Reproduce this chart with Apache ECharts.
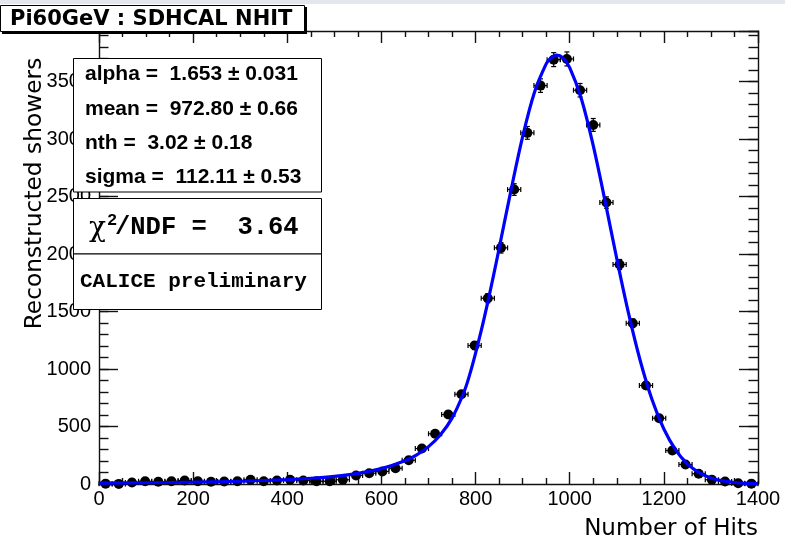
<!DOCTYPE html>
<html>
<head>
<meta charset="utf-8">
<script src="https://cdn.jsdelivr.net/npm/echarts@6/dist/echarts.min.js"></script>
<style>
html,body{margin:0;padding:0;background:#fff;}
#chart{width:785px;height:542px;}
</style>
</head>
<body>
<div id="chart"></div>
<script>
// ---- data ----
const binCenters = [14,42,70,98,126,154,182,210,238,266,294,322,350,378,406,434,462,490,518,546,
  574,602,630,658,686,714,742,770,798,826,854,882,910,938,966,994,1022,1050,1078,1106,
  1134,1162,1190,1218,1246,1274,1302,1330,1358,1386];
const counts = [3,1,13,24,19,24,30,24,19,22,24,37,24,30,37,30,24,24,37,74,
  94,109,137,207,308,437,604,781,1204,1616,2054,2561,3054,3465,3691,3697,3425,3123,2448,1909,
  1398,857,572,291,170,89,37,22,6,3];
const binHalfWidth = 14;
const fitX = [0,100,200,300,400,450,500,550,600,650,675,700,725,750,775,787.5,800,812.5,825,837.5,850,875,900,925,950,960,972.8,985,1000,1025,1050,1075,1100,1125,1150,1175,1200,1225,1250,1275,1300,1325,1350,1375,1400];
const fitY = [8,11,16,24,38.5,50,67,93,134,202,254,325,426,573,796,951,1138,1342,1565,1801,2048,2550,3021,3406,3654,3706,3730,3708,3622,3347,2943,2462,1959,1484,1070,733,478,297,175,99,53,27,13,6,2.6];
const xTicks = {min:0, max:1400, major:200, minorSplit:4};
const yTicks = {min:0, max:3940, major:500, minor:100};
const titleText = 'Pi60GeV : SDHCAL NHIT';
const statsLines = ['alpha =  1.653 \u00b1 0.031','mean =  972.80 \u00b1 0.66','nth =  3.02 \u00b1 0.18','sigma =  112.11 \u00b1 0.53'];
const chi2Text = '/NDF =  3.64';
const prelimText = 'CALICE preliminary';
const xTitle = 'Number of Hits';
const yTitle = 'Reconstructed showers';

const pointData = binCenters.map((x,i)=>[x, counts[i], Math.sqrt(counts[i])]);
const fitData = fitX.map((x,i)=>[x, fitY[i]]);

const chart = echarts.init(document.getElementById('chart'), null, {renderer:'canvas'});
const axisFont = 'Liberation Sans';
const ink = '#111';
const tickW = 1.4;
const plainNum = v => String(v);

function xAx(pos, labels){
  return {type:'value', position:pos, min:xTicks.min, max:xTicks.max, interval:xTicks.major,
    axisLine:{show:true, onZero:false, lineStyle:{color:ink, width:tickW}},
    axisTick:{show:true, inside:true, length:12, lineStyle:{color:ink, width:tickW}},
    minorTick:{show:true, splitNumber:xTicks.minorSplit, length:6, lineStyle:{color:ink, width:tickW}},
    axisLabel:{show:labels, color:'#000', fontSize:20, fontFamily:axisFont, margin:5, formatter:plainNum},
    splitLine:{show:false}};
}
function yAx(pos, interval, len, labels, line){
  return {type:'value', position:pos, min:yTicks.min, max:yTicks.max, interval:interval,
    axisLine:{show:line, onZero:false, lineStyle:{color:ink, width:tickW}},
    axisTick:{show:true, inside:true, length:len, lineStyle:{color:ink, width:tickW}},
    axisLabel:{show:labels, color:'#000', fontSize:20, fontFamily:axisFont, margin:8, showMaxLabel:false, formatter:plainNum},
    splitLine:{show:false}};
}

const boxL = 73.5, boxW = 248;
const option = {
  animation:false,
  backgroundColor:'#fff',
  grid:{left:99, right:27, top:31, bottom:58},
  xAxis:[xAx('bottom', true), xAx('top', false)],
  yAxis:[yAx('left', yTicks.major, 19, true, true), yAx('left', yTicks.minor, 9.5, false, false),
         yAx('right', yTicks.major, 19, false, true), yAx('right', yTicks.minor, 9.5, false, false)],
  series:[
    {type:'custom', xAxisIndex:0, yAxisIndex:0, z:3, data:pointData,
      renderItem:function(params, api){
        const x = api.value(0), y = api.value(1), e = api.value(2);
        const l = api.coord([x-binHalfWidth, y]), r = api.coord([x+binHalfWidth, y]);
        const t = api.coord([x, y+e]), b = api.coord([x, Math.max(0, y-e)]);
        const cap = 2.5;
        const st = {stroke:'#000', lineWidth:1.2};
        const ch = [
          {type:'line', shape:{x1:l[0], y1:l[1], x2:r[0], y2:r[1]}, style:st},
          {type:'line', shape:{x1:l[0], y1:l[1]-cap, x2:l[0], y2:l[1]+cap}, style:st},
          {type:'line', shape:{x1:r[0], y1:r[1]-cap, x2:r[0], y2:r[1]+cap}, style:st}
        ];
        if (t[1] < b[1]-1) {
          ch.push({type:'line', shape:{x1:t[0], y1:t[1], x2:b[0], y2:b[1]}, style:st});
          ch.push({type:'line', shape:{x1:t[0]-cap, y1:t[1], x2:t[0]+cap, y2:t[1]}, style:st});
          ch.push({type:'line', shape:{x1:b[0]-cap, y1:b[1], x2:b[0]+cap, y2:b[1]}, style:st});
        }
        return {type:'group', children:ch};
      }},
    {type:'scatter', xAxisIndex:0, yAxisIndex:0, z:4, symbol:'circle', symbolSize:10,
      itemStyle:{color:'#000', opacity:1}, data:pointData.map(p=>[p[0],p[1]])},
    {type:'line', xAxisIndex:0, yAxisIndex:0, z:5, data:fitData, showSymbol:false, smooth:0.35,
      lineStyle:{color:'#0000ff', width:3.2}}
  ],
  graphic:[
    {type:'rect', z:100, shape:{x:0, y:0, width:785, height:4}, style:{fill:'#e4e8ee'}},
    // title box
    {type:'rect', z:100, shape:{x:2, y:7, width:305, height:27}, style:{fill:'#000'}},
    {type:'rect', z:101, shape:{x:0.5, y:5.5, width:304, height:26}, style:{fill:'#fff', stroke:'#000', lineWidth:1}},
    {type:'text', z:102, x:10, y:19.5, style:{text:titleText, font:'bold 21px "DejaVu Sans"', fill:'#000', align:'left', verticalAlign:'middle'}},
    // stats box
    {type:'rect', z:101, shape:{x:boxL, y:58.5, width:boxW, height:133.5}, style:{fill:'#fff', stroke:'#000', lineWidth:1}},
    {type:'text', z:102, x:85, y:74, style:{text:statsLines[0], font:'bold 21px "Liberation Sans"', fill:'#000', align:'left', verticalAlign:'middle'}},
    {type:'text', z:102, x:85, y:109, style:{text:statsLines[1], font:'bold 21px "Liberation Sans"', fill:'#000', align:'left', verticalAlign:'middle'}},
    {type:'text', z:102, x:85, y:143, style:{text:statsLines[2], font:'bold 21px "Liberation Sans"', fill:'#000', align:'left', verticalAlign:'middle'}},
    {type:'text', z:102, x:85, y:177, style:{text:statsLines[3], font:'bold 21px "Liberation Sans"', fill:'#000', align:'left', verticalAlign:'middle'}},
    // chi2 box
    {type:'rect', z:101, shape:{x:boxL, y:198.5, width:boxW, height:55.5}, style:{fill:'#fff', stroke:'#000', lineWidth:1}},
    {type:'text', z:102, x:89, y:229, style:{text:'\u03c7', font:'28px "DejaVu Serif"', fill:'#000', align:'left', verticalAlign:'middle'}},
    {type:'text', z:102, x:107, y:221, style:{text:'2', font:'bold 17px "Liberation Mono"', fill:'#000', align:'left', verticalAlign:'middle'}},
    {type:'text', z:102, x:115, y:228, style:{text:chi2Text, font:'bold 25.5px "Liberation Mono"', fill:'#000', align:'left', verticalAlign:'middle'}},
    // preliminary box
    {type:'rect', z:101, shape:{x:boxL, y:254, width:boxW, height:55.5}, style:{fill:'#fff', stroke:'#000', lineWidth:1}},
    {type:'text', z:102, x:80, y:282, style:{text:prelimText, font:'bold 21px "Liberation Mono"', fill:'#000', align:'left', verticalAlign:'middle'}},
    // axis titles
    {type:'text', z:102, x:758, y:529, style:{text:xTitle, font:'23px "DejaVu Sans"', fill:'#000', align:'right', verticalAlign:'middle'}},
    {type:'text', z:102, x:35, y:193.5, rotation:Math.PI/2, style:{text:yTitle, font:'23.3px "DejaVu Sans"', fill:'#000', align:'center', verticalAlign:'middle'}}
  ]
};
chart.setOption(option);
</script>
</body>
</html>
